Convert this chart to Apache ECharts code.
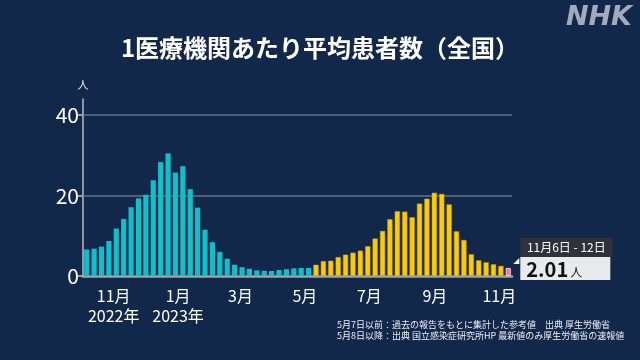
<!DOCTYPE html>
<html><head><meta charset="utf-8">
<script src="https://cdn.jsdelivr.net/npm/echarts@6/dist/echarts.min.js"></script>
<style>html,body{margin:0;padding:0;background:#12284a;}#c{width:640px;height:360px;}</style>
</head><body><div id="c"></div>
<script>
// ---- data ----
const startWeek = '2022-10-03';
const weekCount = 58;
const tealValues = [6.6, 6.8, 7.3, 8.7, 11.8, 14.2, 17.1, 19.3, 20.2, 23.8, 28.3, 30.5, 25.7, 27.3, 21.6, 17.0, 11.5, 8.4, 6.0, 4.3, 2.8, 2.2, 1.8, 1.4, 1.3, 1.25, 1.5, 1.7, 1.9, 2.0, 2.0];
const yellowValues = [2.8, 3.7, 3.8, 4.7, 5.3, 5.8, 6.3, 7.4, 9.3, 11.2, 14.1, 16.1, 16.0, 14.6, 18.0, 19.2, 20.7, 20.4, 17.8, 11.1, 8.95, 5.4, 3.9, 3.4, 2.9, 2.5];
const pinkValues = [2.01];
const monthTickDates = ['2022-11-01', '2023-01-01', '2023-03-01', '2023-05-01', '2023-07-01', '2023-09-01', '2023-11-01'];
const monthTickLabels = ['11月\n2022年', '1月\n2023年', '3月', '5月', '7月', '9月', '11月'];
const yTickValues = [0, 20, 40];
const gridLineValues = [20, 40];
const titleText = '1医療機関あたり平均患者数（全国）';
const latestPeriod = '11月6日 - 12日';
const unitText = '人';
const footnotes = ['5月7日以前：過去の報告をもとに集計した参考値　出典 厚生労働省', '5月8日以降：出典 国立感染症研究所HP 最新値のみ厚生労働省の速報値'];

// ---- build ----
const DAY = 86400000;
const t0 = Date.parse(startWeek + 'T00:00:00Z');
const categories = [];
for (let i = 0; i < weekCount; i++) {
  const d = new Date(t0 + i * 7 * DAY);
  categories.push((d.getUTCMonth() + 1) + '/' + d.getUTCDate());
}
const monthTickPos = monthTickDates.map(s => (Date.parse(s + 'T00:00:00Z') - t0) / (7 * DAY));
const nT = tealValues.length, nY = yellowValues.length;
const pad = n => new Array(n).fill(null);
const tealData = tealValues.concat(pad(weekCount - nT));
const yellowData = pad(nT).concat(yellowValues, pad(weekCount - nT - nY));
const pinkData = pad(nT + nY).concat(pinkValues);
const latest = pinkValues[pinkValues.length - 1];

const FONT = '"Noto Sans CJK JP", "Noto Sans", sans-serif';
const chart = echarts.init(document.getElementById('c'), null, {renderer: 'canvas'});
const option = {
  backgroundColor: '#12284a',
  animation: false,
  title: {
    text: titleText, left: 'center', top: 31,
    textStyle: {color: '#ffffff', fontSize: 24, fontWeight: 'bold', fontFamily: FONT}
  },
  grid: {left: 83, right: 128, top: 99, bottom: 84, containLabel: false},
  xAxis: [{
    type: 'category', data: categories, boundaryGap: true,
    axisLine: {show: true, lineStyle: {color: '#9ea4ae', width: 2.5}},
    axisTick: {show: false}, axisLabel: {show: false}, splitLine: {show: false}
  }, {
    type: 'value', min: 0, max: weekCount, position: 'bottom',
    axisLine: {show: false}, axisTick: {show: false}, splitLine: {show: false},
    axisLabel: {
      customValues: monthTickPos, margin: 10,
      color: '#ffffff', fontSize: 16, lineHeight: 20, fontFamily: FONT,
      formatter: function (v) {
        for (let i = 0; i < monthTickPos.length; i++) if (Math.abs(monthTickPos[i] - v) < 1e-6) return monthTickLabels[i];
        return '';
      }
    }
  }],
  yAxis: {
    type: 'value', min: 0, max: 44,
    name: unitText, nameLocation: 'end', nameGap: 9,
    nameTextStyle: {color: '#e6e8ee', fontSize: 11, fontFamily: FONT, align: 'center'},
    axisLine: {show: true, lineStyle: {color: '#b9bec8', width: 1.5}},
    axisTick: {show: true, customValues: yTickValues, length: 5, lineStyle: {color: '#b9bec8', width: 1.5}},
    axisLabel: {customValues: yTickValues, color: '#ffffff', fontSize: 21, margin: 4, fontFamily: FONT},
    splitLine: {show: false}
  },
  series: [{
    type: 'line', data: [], z: 1, silent: true,
    markLine: {
      z: 1, silent: true, symbol: 'none', label: {show: false},
      lineStyle: {color: '#667089', width: 1.5, type: 'solid'},
      data: gridLineValues.map(v => ({yAxis: v}))
    }
  }, {
    type: 'bar', stack: 'all', data: tealData, barWidth: '70%', z: 3,
    itemStyle: {color: '#0fbfc9'}
  }, {
    type: 'bar', stack: 'all', data: yellowData, barWidth: '70%', z: 3,
    itemStyle: {color: '#ffcb00', borderColor: '#c9a100', borderWidth: 0.5}
  }, {
    type: 'bar', stack: 'all', data: pinkData, barWidth: '70%', z: 3,
    itemStyle: {color: '#ec7f8a', borderColor: '#ffc4c9', borderWidth: 1}
  }]
};
chart.setOption(option);

const p = chart.convertToPixel({seriesIndex: 3}, [weekCount - 1, 0]);
const cx = p[0], by = p[1];
const bx = cx + 12;
chart.setOption({
  graphic: [
    {type: 'text', right: 8, top: 4, style: {text: 'NHK', fill: '#a3abbb', font: 'italic bold 27px "DejaVu Sans", sans-serif'}},
    {type: 'rect', shape: {x: bx, y: by - 38, width: 92, height: 19}, style: {fill: '#2f3238'}},
    {type: 'rect', shape: {x: bx, y: by - 19, width: 90, height: 23}, style: {fill: '#e8eaee'}},
    {type: 'polygon', shape: {points: [[bx - 1, by - 18], [bx - 1, by - 12], [bx - 7, by - 12]]}, style: {fill: '#ffffff'}},
    {type: 'text', x: bx + 46, y: by - 28.5, style: {text: latestPeriod, fill: '#ffffff', font: '12px "Noto Sans CJK JP"', align: 'center', verticalAlign: 'middle'}},
    {type: 'text', x: bx + 6, y: by - 7, style: {
      text: '{v|' + latest.toFixed(2) + '}{u|' + unitText + '}', verticalAlign: 'middle', align: 'left',
      rich: {
        v: {fontSize: 20, fontWeight: 'bold', fill: '#111111', fontFamily: FONT, verticalAlign: 'bottom'},
        u: {fontSize: 12, fill: '#111111', fontFamily: FONT, verticalAlign: 'bottom', padding: [0, 0, 1, 2]}
      }
    }},
    {type: 'text', x: 337, y: 325, style: {text: footnotes[0], fill: '#eef0f4', font: '9px "Noto Sans CJK JP"', verticalAlign: 'middle'}},
    {type: 'text', x: 337, y: 336, style: {text: footnotes[1], fill: '#eef0f4', font: '9px "Noto Sans CJK JP"', verticalAlign: 'middle'}}
  ]
});
</script>
</body></html>
